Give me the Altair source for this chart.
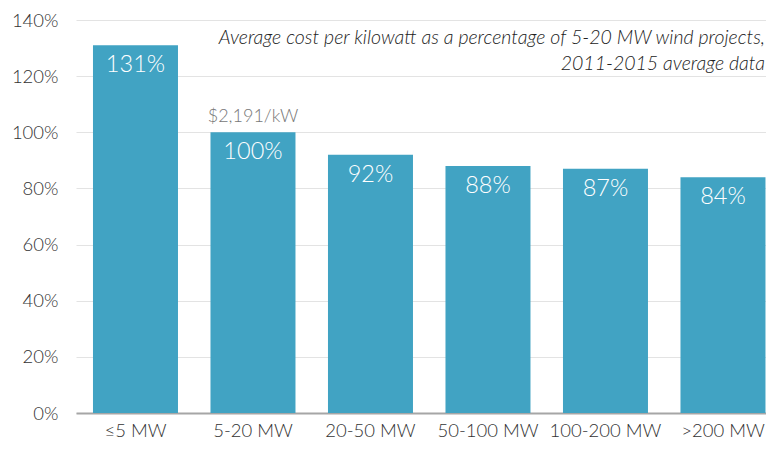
import altair as alt
import pandas as pd

categories = ["≤5 MW", "5-20 MW", "20-50 MW", "50-100 MW", "100-200 MW", ">200 MW"]
values = [131, 100, 92, 88, 87, 84]
bar_labels = ["131%", "100%", "92%", "88%", "87%", "84%"]
y_ticks = [0, 20, 40, 60, 80, 100, 120, 140]
note_text = "Average cost per kilowatt as a percentage of 5-20 MW wind projects,\n2011-2015 average data"
ref_category = "5-20 MW"
ref_label = "$2,191/kW"

df = pd.DataFrame({"cat": categories, "val": values, "lab": bar_labels})
ref_df = pd.DataFrame({"cat": [ref_category],
                       "val": [values[categories.index(ref_category)]],
                       "lab": [ref_label]})
note_df = pd.DataFrame({"note": [note_text]})

FONT = "Lato"
W = 300

x = alt.X("cat:N", sort=categories, title=None,
          scale=alt.Scale(paddingInner=0.2766, paddingOuter=0.0745, align=0.97),
          axis=alt.Axis(labelAngle=0, labelFont=FONT, labelFontSize=18.5, labelFontWeight=W,
                        labelColor="#333333",
                        ticks=False, domainColor="#a6a6a6", domainWidth=2, labelPadding=8,
                        grid=False))
y = alt.Y("val:Q", title=None,
          scale=alt.Scale(domain=[0, 140], nice=False),
          axis=alt.Axis(values=y_ticks, labelExpr="datum.value + '%'", labelFont=FONT,
                        labelFontSize=18.5, labelFontWeight=W, labelColor="#333333", ticks=False,
                        domain=False, grid=True, gridColor="#e3e3e3", gridWidth=1,
                        labelPadding=18))

bars = alt.Chart(df).mark_bar(color="#41A3C3").encode(x=x, y=y)

labels = alt.Chart(df).mark_text(color="white", font=FONT, fontSize=23.5, fontWeight=W,
                                 baseline="middle", dy=20).encode(
    x=alt.X("cat:N", sort=categories), y="val:Q", text="lab:N")

ref = alt.Chart(ref_df).mark_text(color="#777777", font=FONT, fontSize=18, fontWeight=W,
                                  baseline="alphabetic", dy=-10).encode(
    x=alt.X("cat:N", sort=categories), y="val:Q", text="lab:N")

note = alt.Chart(note_df).mark_text(font=FONT, fontSize=19.5, fontStyle="italic", fontWeight=W,
                                    color="#222222", align="right", baseline="middle",
                                    lineBreak="\n", lineHeight=26).encode(
    x=alt.value(689), y=alt.value(18), text="note:N")

chart = alt.layer(bars, labels, ref, note).properties(
    width=690, height=393,
    autosize=alt.AutoSizeParams(type="none"),
    padding={"left": 68, "top": 12, "right": 0, "bottom": 28},
).configure_view(stroke=None)

chart.save("out.html", embed_options={"renderer": "svg", "actions": False})
